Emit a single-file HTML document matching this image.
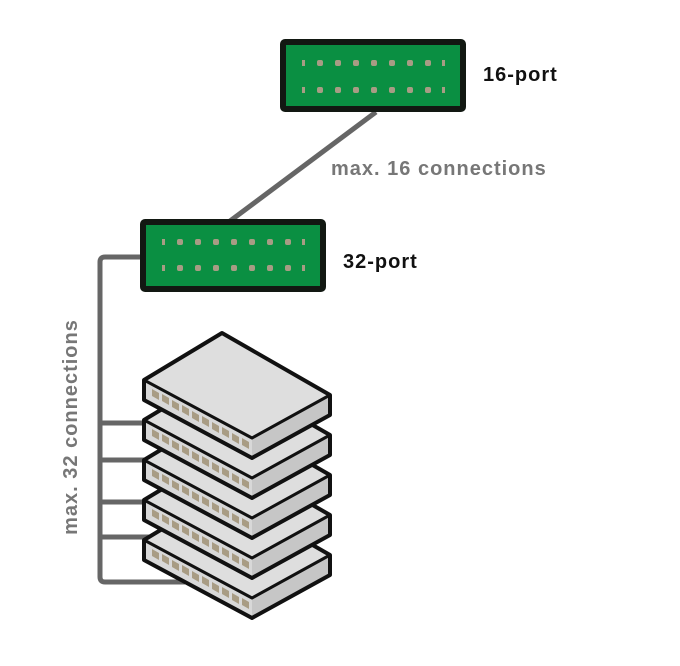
<!DOCTYPE html>
<html><head><meta charset="utf-8"><style>
html,body{margin:0;padding:0;background:#fff;}
svg{display:block;font-family:"Liberation Sans",sans-serif;}
</style></head><body>
<svg width="680" height="666" viewBox="0 0 680 666" xmlns="http://www.w3.org/2000/svg">
<defs>
  <g id="box">
    <polygon points="144,380 252,438 252,458 144,400" fill="#d8d8d8"/>
    <polygon points="252,438 330,395 330,415 252,458" fill="#c6c6c6"/>
    <polygon points="144,380 222,333 330,395 252,438" fill="#dedede"/>
    <g fill="#a89c84">
      <polygon points="152,389 159,393 159,400 152,396"/>
      <polygon points="162,394 169,398 169,405 162,401"/>
      <polygon points="172,400 179,404 179,411 172,407"/>
      <polygon points="182,405 189,409 189,416 182,412"/>
      <polygon points="192,411 199,415 199,422 192,418"/>
      <polygon points="202,416 209,420 209,427 202,423"/>
      <polygon points="212,422 219,426 219,433 212,429"/>
      <polygon points="222,427 229,431 229,438 222,434"/>
      <polygon points="232,433 239,437 239,444 232,440"/>
      <polygon points="242,438 249,442 249,449 242,445"/>
    </g>
    <polygon points="144,380 222,333 330,395 330,415 252,458 144,400" fill="none" stroke="#111" stroke-width="4" stroke-linejoin="round"/>
    <polyline points="144,380 252,438 330,395" fill="none" stroke="#111" stroke-width="3" stroke-linejoin="round"/>
  </g>
  <g id="dots" fill="#a89c84">
    <rect x="0" y="-3" width="3" height="6"/>
    <rect x="15" y="-3" width="6" height="6" rx="2"/>
    <rect x="33" y="-3" width="6" height="6" rx="2"/>
    <rect x="51" y="-3" width="6" height="6" rx="2"/>
    <rect x="69" y="-3" width="6" height="6" rx="2"/>
    <rect x="87" y="-3" width="6" height="6" rx="2"/>
    <rect x="105" y="-3" width="6" height="6" rx="2"/>
    <rect x="123" y="-3" width="6" height="6" rx="2"/>
    <rect x="140" y="-3" width="3" height="6"/>
  </g>
</defs>

<line x1="376" y1="112" x2="230" y2="221" stroke="#666" stroke-width="5"/>
<path d="M141,257 H105 Q100,257 100,262 V577 Q100,582 105,582 H185" fill="none" stroke="#666" stroke-width="5"/>
<g stroke="#666" stroke-width="5">
  <line x1="100" y1="423" x2="185" y2="423"/>
  <line x1="100" y1="460" x2="185" y2="460"/>
  <line x1="100" y1="502" x2="185" y2="502"/>
  <line x1="100" y1="537" x2="185" y2="537"/>
</g>

<use href="#box" transform="translate(0,160)"/>
<use href="#box" transform="translate(0,120)"/>
<use href="#box" transform="translate(0,80)"/>
<use href="#box" transform="translate(0,40)"/>
<use href="#box"/>

<rect x="283" y="42" width="180" height="67" rx="2" fill="#0a8f42" stroke="#121812" stroke-width="6"/>
<use href="#dots" transform="translate(302,63)"/>
<use href="#dots" transform="translate(302,90)"/>
<rect x="143" y="222" width="180" height="67" rx="2" fill="#0a8f42" stroke="#121812" stroke-width="6"/>
<use href="#dots" transform="translate(162,242)"/>
<use href="#dots" transform="translate(162,268)"/>

<text x="483" y="81" font-size="20" font-weight="bold" fill="#111" letter-spacing="1">16-port</text>
<text x="343" y="268" font-size="20" font-weight="bold" fill="#111" letter-spacing="1">32-port</text>
<text x="331" y="175" font-size="20" font-weight="bold" fill="#777" letter-spacing="1">max. 16 connections</text>
<text transform="translate(77,427) rotate(-90)" text-anchor="middle" font-size="20" font-weight="bold" fill="#777" letter-spacing="1">max. 32 connections</text>
</svg>
</body></html>
